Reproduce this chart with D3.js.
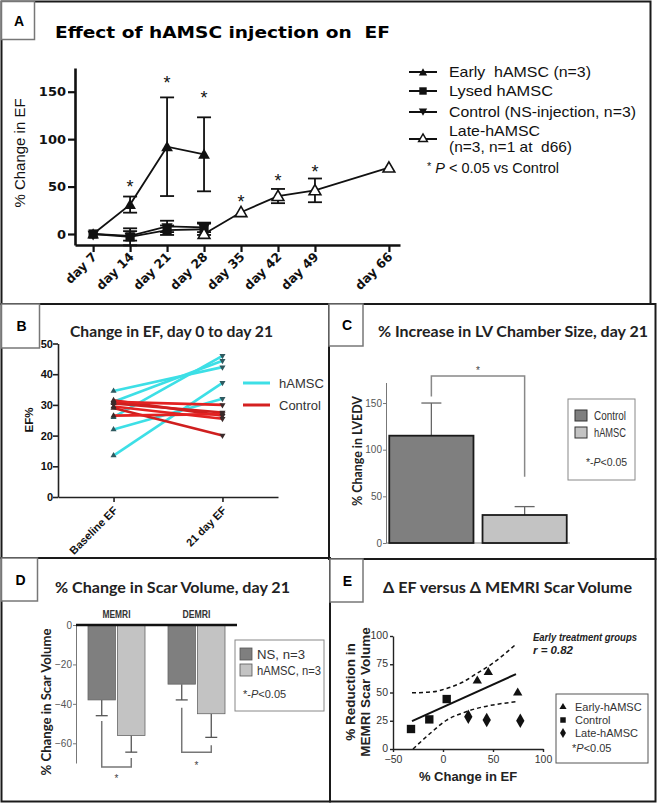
<!DOCTYPE html>
<html><head><meta charset="utf-8">
<script src="https://cdn.jsdelivr.net/npm/d3@7"></script>
<style>
body{margin:0;background:#fff}
svg{display:block}
text{font-family:"Liberation Sans",Arial,sans-serif}
.dj{font-family:"DejaVu Sans",sans-serif;font-weight:bold}
.cal{font-family:Lato,"Open Sans",sans-serif;font-weight:bold}
.nar{font-family:"Liberation Sans Narrow","Arial Narrow","Liberation Sans",sans-serif}
</style>
</head><body><svg id="c" width="659" height="803"></svg>
<script>
// ---------------- DATA ----------------
// Panel A
const dayLabels = ["day 7","day 14","day 21","day 28","day 35","day 42","day 49","day 66"];
const dayPos = [0,1,2,3,4,5,6,8];
const earlyIdx = [0,1,2,3],  earlyVal = [0,31,92,84],   earlyErr = [0,8.5,52,39];
const lysedIdx = [0,1,2,3],  lysedVal = [0,-3,4,5],     lysedErr = [0,9,5,6];
const ctrlIdx  = [0,1,2,3],  ctrlVal  = [0,-2,8,7],     ctrlErr  = [0,5,6,5];
const lateIdx  = [3,4,5,6,7], lateVal = [0,23,40,46,70], lateErr = [0,0,7.5,12.5,0];
const starIdx = [1,2,3,4,5,6], starVal = [54,163,148,38,60,70];
const yTicksA = [0,50,100,150];
const legendA = ["Early  hAMSC (n=3)","Lysed hAMSC","Control (NS-injection, n=3)","Late-hAMSC","(n=3, n=1 at  d66)"];
// Panel B
const bCats = ["Baseline EF","21 day EF"];
const hamscBase = [34.5,31,26,22,13.5], hamscEnd = [42.3,44.4,46,32,37.2];
const ctrlBase = [31.5,31,30.5,29.5,29,26.5], ctrlEnd = [26.5,30,27.5,25.5,20,27];
const yTicksB = [0,10,20,30,40,50];
// Panel C
const lvCats = ["Control","hAMSC"], lvVal = [115,30], lvErr = [35,9];
const yTicksC = [0,50,100,150];
// Panel D
const scarGroups = ["MEMRI","DEMRI"], scarSeries = ["NS, n=3","hAMSC, n=3"];
const nsScar = [-38,-30], nsScarErr = [8,8];
const hamscScar = [-56,-45], hamscScarErr = [8.5,12];
const yTicksD = [0,-20,-40,-60];
// Panel E
const eEarlyX = [34.3,45.3,74.7], eEarlyY = [60.3,67.8,49.7];
const eCtrlX = [-32,-13.7,3.7], eCtrlY = [17.7,26.2,44.2];
const eLateX = [25.3,43.7,77.3], eLateY = [28.5,25.6,25];
const fitX = [-31,73], fitY = [24.7,66.3];
const upX = [-31,-10,3.7,20,33.7,50,73], upY = [49.7,50.6,53.6,59.3,66.8,76,92.8];
const loX = [-30,-12.7,3.7,20,33.7,50,73], loY = [0,13.9,25.6,32,35.9,39,41.8];
const xTicksE = [-50,0,50,100], yTicksE = [0,25,50,75,100];

// ---------------- DRAW ----------------
const svg = d3.select("#c");
svg.append("rect").attr("width",659).attr("height",803).attr("fill","#fff");

function sym(g, type, x, y, size, rot, fill, stroke, sw){
  return g.append("path").attr("d", d3.symbol().type(type).size(size)())
    .attr("transform",`translate(${x},${y}) rotate(${rot||0})`)
    .attr("fill",fill).attr("stroke",stroke||"none").attr("stroke-width",sw||0);
}
function fit(sel, w){ return sel.attr("textLength",w).attr("lengthAdjust","spacingAndGlyphs"); }

// frames
const fr = svg.append("g").attr("fill","none").attr("stroke","#1a1a1a").attr("stroke-width",2);
fr.append("rect").attr("x",1.5).attr("y",1.5).attr("width",649).attr("height",302.5);
fr.append("rect").attr("x",1.5).attr("y",304).attr("width",327.5).attr("height",254);
fr.append("rect").attr("x",329).attr("y",304).attr("width",326.5).attr("height",255);
fr.append("rect").attr("x",1.5).attr("y",558).attr("width",328.5).attr("height",243.5);
fr.append("rect").attr("x",330).attr("y",559).attr("width",325.5).attr("height",242.5);
const labs = [{t:"A",x:1.5,y:1.5,w:33,h:38},{t:"B",x:1.5,y:304,w:38,h:44},{t:"C",x:329,y:304,w:34,h:42},{t:"D",x:1.5,y:558,w:36,h:43},{t:"E",x:330,y:559,w:33,h:43}];
labs.forEach(l=>{
  svg.append("rect").attr("x",l.x).attr("y",l.y).attr("width",l.w).attr("height",l.h)
    .attr("fill","#fff").attr("stroke","#777").attr("stroke-width",1.5);
  svg.append("text").attr("x",l.x+l.w/2+1).attr("y",l.y+l.h/2+5).attr("text-anchor","middle")
    .attr("font-size",14).attr("font-weight","bold").text(l.t);
});

// ======== PANEL A ========
{
const g = svg.append("g");
g.append("text").attr("class","dj").attr("x",55).attr("y",38).attr("font-size",15.5)
  .attr("textLength",335).attr("lengthAdjust","spacingAndGlyphs").style("white-space","pre")
  .text("Effect of hAMSC injection on  EF");
const x = d3.scaleLinear().domain([-0.49,8.3]).range([75,400]);
const y = d3.scaleLinear().domain([-11.6,175]).range([245,68]);
const xa = g.append("g").attr("transform","translate(0,245)")
  .call(d3.axisBottom(x).tickValues(dayPos).tickSize(7).tickSizeOuter(0).tickFormat((d,i)=>dayLabels[i]));
xa.selectAll("text").attr("class","dj").attr("font-weight","bold").attr("font-size",12.5).attr("text-anchor","end")
  .attr("transform","translate(-3,2) rotate(-45)").attr("dy","0.35em").attr("dx","-0.2em").attr("y",8).attr("fill","#111");
const ya = g.append("g").attr("transform","translate(75,0)")
  .call(d3.axisLeft(y).tickValues(yTicksA).tickSize(7).tickSizeOuter(0));
ya.selectAll("text").attr("class","dj").attr("font-weight","bold").attr("font-size",13).attr("x",-9).attr("fill","#111");
[xa,ya].forEach(a=>{a.select(".domain").attr("stroke","#111").attr("stroke-width",2.6);
  a.selectAll(".tick line").attr("stroke","#111").attr("stroke-width",2.2);});
g.append("text").attr("transform","translate(25,153) rotate(-90)").attr("text-anchor","middle")
  .attr("font-size",15).attr("fill","#111").text("% Change in EF");

const px = i => x(dayPos[i]);
function series(idx, val, err){
  const line = d3.line().x((d,k)=>px(idx[k])).y(d=>y(d));
  g.append("path").attr("d",line(val)).attr("fill","none").attr("stroke","#111").attr("stroke-width",1.8);
  val.forEach((v,k)=>{ if(err[k]>0){
    const cx = px(idx[k]);
    g.append("line").attr("x1",cx).attr("x2",cx).attr("y1",y(v-err[k])).attr("y2",y(v+err[k])).attr("stroke","#111").attr("stroke-width",1.8);
    [v-err[k],v+err[k]].forEach(e=>g.append("line").attr("x1",cx-7).attr("x2",cx+7).attr("y1",y(e)).attr("y2",y(e)).attr("stroke","#111").attr("stroke-width",1.8));
  }});
}
series(ctrlIdx, ctrlVal, ctrlErr);
series(lysedIdx, lysedVal, lysedErr);
series(lateIdx, lateVal, lateErr);
series(earlyIdx, earlyVal, earlyErr);
ctrlVal.forEach((v,k)=>sym(g,d3.symbolTriangle,px(ctrlIdx[k]),y(v),55,180,"#111"));
lysedVal.forEach((v,k)=>sym(g,d3.symbolSquare,px(lysedIdx[k]),y(v),85,0,"#111"));
lateVal.forEach((v,k)=>sym(g,d3.symbolTriangle,px(lateIdx[k]),y(v)+1,60,0,"#fff","#111",1.6));
earlyVal.forEach((v,k)=>sym(g,d3.symbolTriangle,px(earlyIdx[k]),y(v)+1,60,0,"#111"));
starVal.forEach((v,k)=>g.append("text").attr("x",px(starIdx[k])).attr("y",y(v)+10)
  .attr("text-anchor","middle").attr("font-size",18).attr("fill","#111").text("*"));

// legend
const lg = g.append("g");
const rowsY = [72,91,112,139];
rowsY.forEach((ry,i)=>lg.append("line").attr("x1",409).attr("x2",437).attr("y1",ry).attr("y2",ry).attr("stroke","#111").attr("stroke-width",2));
sym(lg,d3.symbolTriangle,423,73,30,0,"#111");
sym(lg,d3.symbolSquare,423,91,55,0,"#111");
sym(lg,d3.symbolTriangle,423,111,30,180,"#111");
sym(lg,d3.symbolTriangle,423,139,34,0,"#fff","#111",1.4);
[[0,77,142],[1,96,104],[2,117,187],[3,136,91],[4,152,123]].forEach(([i,ty,w])=>fit(lg.append("text").attr("x",449).attr("y",ty)
  .attr("font-size",15).attr("fill","#111").style("white-space","pre").text(legendA[i]),w));
const pt = lg.append("text").attr("x",427).attr("y",173).attr("font-size",14.5).attr("fill","#111");
pt.append("tspan").attr("font-size",11).attr("dy",-3).text("*");
pt.append("tspan").attr("dy",3).attr("font-style","italic").text(" P");
pt.append("tspan").text(" < 0.05 vs Control");
}

// ======== PANEL B ========
{
const g = svg.append("g");
g.append("text").attr("class","cal").attr("x",70).attr("y",337).attr("font-size",16)
  .attr("textLength",203).attr("lengthAdjust","spacingAndGlyphs").attr("fill","#222").text("Change in EF, day 0 to day 21");
const x = d3.scalePoint().domain(bCats).range([58,278]).padding(0.51);
const y = d3.scaleLinear().domain([0,50]).range([497,343.5]);
const xa = g.append("g").attr("transform","translate(0,497)")
  .call(d3.axisBottom(x).tickSize(5).tickSizeOuter(0));
xa.selectAll("text").attr("font-size",11).attr("font-weight","bold").attr("text-anchor","end")
  .attr("transform","rotate(-45)").attr("x",-7).attr("y",9).attr("dy","0.35em").attr("fill","#111");
const ya = g.append("g").attr("transform","translate(58,0)")
  .call(d3.axisLeft(y).tickValues(yTicksB).tickSize(5).tickSizeOuter(0));
ya.selectAll("text").attr("font-size",11).attr("font-weight","bold").attr("x",-5).attr("fill","#111");
[xa,ya].forEach(a=>{a.select(".domain").attr("stroke","#222").attr("stroke-width",1.6);
  a.selectAll(".tick line").attr("stroke","#222").attr("stroke-width",1.6);});
g.append("text").attr("transform","translate(33,420) rotate(-90)").attr("text-anchor","middle")
  .attr("font-size",11.5).attr("font-weight","bold").attr("fill","#111").text("EF%");
const x0 = x(bCats[0]), x1 = x(bCats[1]);
hamscBase.forEach((b,i)=>g.append("line").attr("x1",x0).attr("y1",y(b)).attr("x2",x1).attr("y2",y(hamscEnd[i]))
  .attr("stroke","#3ddfe6").attr("stroke-width",2.6));
ctrlBase.forEach((b,i)=>g.append("line").attr("x1",x0).attr("y1",y(b)).attr("x2",x1).attr("y2",y(ctrlEnd[i]))
  .attr("stroke",i%2?"#e32222":"#cf1f1f").attr("stroke-width",2.6));
hamscBase.forEach(b=>sym(g,d3.symbolTriangle,x0,y(b),16,0,"#2f5a60"));
ctrlBase.forEach(b=>sym(g,d3.symbolTriangle,x0,y(b),16,0,"#3a2a2a"));
hamscEnd.forEach(b=>sym(g,d3.symbolTriangle,x1,y(b),16,180,"#2f5a60"));
ctrlEnd.forEach(b=>sym(g,d3.symbolTriangle,x1,y(b),16,180,"#3a2a2a"));
// legend
g.append("line").attr("x1",243).attr("x2",270).attr("y1",383).attr("y2",383).attr("stroke","#3ddfe6").attr("stroke-width",3);
g.append("line").attr("x1",243).attr("x2",270).attr("y1",405).attr("y2",405).attr("stroke","#d42020").attr("stroke-width",3);
g.append("text").attr("x",279).attr("y",388).attr("font-size",13).attr("fill","#333").text("hAMSC");
g.append("text").attr("x",279).attr("y",410).attr("font-size",13).attr("fill","#333").text("Control");
}

// ======== PANEL C ========
{
const g = svg.append("g");
g.append("text").attr("class","cal").attr("x",378).attr("y",337).attr("font-size",16)
  .attr("textLength",270).attr("lengthAdjust","spacingAndGlyphs").attr("fill","#222").text("% Increase in LV Chamber Size, day 21");
const x = d3.scaleBand().domain(lvCats).range([386,570]).paddingInner(0.097).paddingOuter(0.035);
const y = d3.scaleLinear().domain([0,172]).range([543,382.5]);
const ya = g.append("g").attr("transform","translate(386,0)")
  .call(d3.axisLeft(y).tickValues(yTicksC).tickSize(3).tickSizeOuter(0));
ya.selectAll("text").attr("class","nar").attr("font-size",10).attr("x",-4).attr("fill","#555");
ya.select(".domain").attr("stroke","#777");
ya.selectAll(".tick line").attr("stroke","#777");
g.append("line").attr("x1",386).attr("x2",570).attr("y1",543).attr("y2",543).attr("stroke","#777");
fit(g.append("text").attr("class","cal").attr("transform","translate(362,451) rotate(-90)").attr("text-anchor","middle")
  .attr("font-size",13).attr("fill","#222").text("% Change in LVEDV"),110);
const fills = ["#7f7f7f","#c3c3c3"];
lvCats.forEach((c,i)=>{
  const cx = x(c)+x.bandwidth()/2;
  g.append("line").attr("x1",cx).attr("x2",cx).attr("y1",y(lvVal[i])).attr("y2",y(lvVal[i]+lvErr[i])).attr("stroke","#666").attr("stroke-width",1.3);
  g.append("line").attr("x1",cx-10).attr("x2",cx+10).attr("y1",y(lvVal[i]+lvErr[i])).attr("y2",y(lvVal[i]+lvErr[i])).attr("stroke","#666").attr("stroke-width",1.3);
  g.append("rect").attr("x",x(c)).attr("y",y(lvVal[i])).attr("width",x.bandwidth()).attr("height",y(0)-y(lvVal[i]))
    .attr("fill",fills[i]).attr("stroke","#1a1a1a").attr("stroke-width",1.8);
});
const cl = x(lvCats[0])+x.bandwidth()/2, cr = x(lvCats[1])+x.bandwidth()/2;
g.append("path").attr("d",`M${cl},${y(157)}V${y(179)}H${cr}V${y(71)}`).attr("fill","none").attr("stroke","#888").attr("stroke-width",1.5);
g.append("text").attr("x",(cl+cr)/2).attr("y",y(179)-2).attr("text-anchor","middle").attr("font-size",10).attr("fill","#444").text("*");
// legend
g.append("rect").attr("x",568).attr("y",399).attr("width",67).attr("height",81).attr("fill","#fff").attr("stroke","#888");
lvCats.forEach((c,i)=>{
  g.append("rect").attr("x",575).attr("y",410+i*17).attr("width",12).attr("height",11).attr("fill",fills[i]).attr("stroke","#333");
  fit(g.append("text").attr("class","nar").attr("x",594).attr("y",420+i*17).attr("font-size",12).attr("fill","#333").text(c),32);
});
const t = g.append("text").attr("class","nar").attr("x",586).attr("y",466).attr("font-size",10.5).attr("fill","#333");
t.append("tspan").text("*-"); t.append("tspan").attr("font-style","italic").text("P"); t.append("tspan").text("<0.05");
}

// ======== PANEL D ========
{
const g = svg.append("g");
g.append("text").attr("class","cal").attr("x",55).attr("y",593).attr("font-size",16)
  .attr("textLength",235).attr("lengthAdjust","spacingAndGlyphs").attr("fill","#222").text("% Change in Scar Volume, day 21");
const x0 = d3.scaleBand().domain(scarGroups).range([76,237]).paddingInner(0.2875).paddingOuter(0.15);
const x1 = d3.scaleBand().domain(scarSeries).range([0,x0.bandwidth()]).paddingInner(0.07);
const y = d3.scaleLinear().domain([-70,0]).range([763,625]);
const ya = g.append("g").attr("transform","translate(76,0)")
  .call(d3.axisLeft(y).tickValues(yTicksD).tickSize(3).tickSizeOuter(0));
ya.selectAll("text").attr("class","nar").attr("font-size",10).attr("x",-4).attr("fill","#555");
ya.select(".domain").attr("stroke","#777");
ya.selectAll(".tick line").attr("stroke","#777");
fit(g.append("text").attr("class","cal").attr("transform","translate(51,702) rotate(-90)").attr("text-anchor","middle")
  .attr("font-size",13).attr("fill","#222").text("% Change in Scar Volume"),147);
const fills = ["#7f7f7f","#c3c3c3"];
const vals = [nsScar, hamscScar], errs = [nsScarErr, hamscScarErr];
scarGroups.forEach((gr,gi)=>{
  scarSeries.forEach((s,si)=>{
    const bx = x0(gr)+x1(s), v = vals[si][gi], e = errs[si][gi], cx = bx + x1.bandwidth()/2;
    g.append("line").attr("x1",cx).attr("x2",cx).attr("y1",y(v)).attr("y2",y(v-e)).attr("stroke","#555").attr("stroke-width",1.3);
    g.append("line").attr("x1",cx-6).attr("x2",cx+6).attr("y1",y(v-e)).attr("y2",y(v-e)).attr("stroke","#555").attr("stroke-width",1.3);
    g.append("rect").attr("x",bx).attr("y",y(0)).attr("width",x1.bandwidth()).attr("height",y(v)-y(0))
      .attr("fill",fills[si]).attr("stroke","#666").attr("stroke-width",0.8);
  });
  fit(g.append("text").attr("class","nar").attr("x",x0(gr)+x0.bandwidth()/2).attr("y",618).attr("text-anchor","middle")
    .attr("font-size",10).attr("font-weight","bold").attr("fill","#333").text(gr),28);
});
g.append("line").attr("x1",76).attr("x2",237).attr("y1",y(0)).attr("y2",y(0)).attr("stroke","#111").attr("stroke-width",2.4);
// brackets
const brk = [[-48.7,-72,-67.5,-76.5],[-42,-64.5,-61,-70]];
scarGroups.forEach((gr,gi)=>{
  const l = x0(gr)+x1(scarSeries[0])+x1.bandwidth()/2, r = x0(gr)+x1(scarSeries[1])+x1.bandwidth()/2;
  const b = brk[gi];
  g.append("path").attr("d",`M${l},${y(b[0])}V${y(b[1])}H${r}V${y(b[2])}`).attr("fill","none").attr("stroke","#777").attr("stroke-width",1.5);
  g.append("text").attr("x",(l+r)/2).attr("y",y(b[3])+6).attr("text-anchor","middle").attr("font-size",10).attr("fill","#444").text("*");
});
// legend
g.append("rect").attr("x",235).attr("y",640).attr("width",89).attr("height",71).attr("fill","#fff").attr("stroke","#888");
[48,64].forEach((w,i)=>{
  g.append("rect").attr("x",240).attr("y",648+i*16).attr("width",12).attr("height",12).attr("fill",fills[i]).attr("stroke","#555").attr("stroke-width",0.8);
  fit(g.append("text").attr("class","nar").attr("x",257).attr("y",659+i*16).attr("font-size",13).attr("fill","#333").text(scarSeries[i]),w);
});
const t = g.append("text").attr("class","nar").attr("x",243).attr("y",698).attr("font-size",11).attr("fill","#333");
t.append("tspan").text("*-"); t.append("tspan").attr("font-style","italic").text("P"); t.append("tspan").text("<0.05");
}

// ======== PANEL E ========
{
const g = svg.append("g");
g.append("text").attr("class","cal").attr("x",383).attr("y",593).attr("font-size",16)
  .attr("textLength",249).attr("lengthAdjust","spacingAndGlyphs").attr("fill","#222").text("Δ EF versus Δ MEMRI Scar Volume");
const x = d3.scaleLinear().domain([-50,100]).range([393,543]);
const y = d3.scaleLinear().domain([0,100]).range([749,636]);
const xa = g.append("g").attr("transform","translate(0,749)").call(d3.axisBottom(x).tickValues(xTicksE).tickSize(3).tickSizeOuter(0));
const ya = g.append("g").attr("transform","translate(393,0)").call(d3.axisLeft(y).tickValues(yTicksE).tickSize(3).tickSizeOuter(0));
[xa,ya].forEach(a=>{a.select(".domain").attr("stroke","#222").attr("stroke-width",1.4);
  a.selectAll(".tick line").attr("stroke","#222").attr("stroke-width",1.4);
  a.selectAll("text").attr("font-size",10.5).attr("fill","#333");});
xa.selectAll("text").attr("y",7);
ya.selectAll("text").attr("x",-5).attr("dy","0.25em");
g.append("text").attr("x",468).attr("y",781).attr("text-anchor","middle").attr("font-size",13).attr("font-weight","bold").attr("fill","#222").text("% Change in EF");
const yl = g.append("text").attr("transform","translate(355,692) rotate(-90)").attr("text-anchor","middle")
  .attr("font-size",13.5).attr("font-weight","bold").attr("fill","#222");
yl.append("tspan").attr("x",0).attr("dy",0).text("% Reduction in");
yl.append("tspan").attr("x",0).attr("dy",15).text("MEMRI Scar Volume");
const ln = d3.line().x(d=>x(d[0])).y(d=>y(d[1]));
g.append("path").attr("d",ln(fitX.map((v,i)=>[v,fitY[i]]))).attr("stroke","#111").attr("stroke-width",2).attr("fill","none");
const cl = d3.line().x(d=>x(d[0])).y(d=>y(d[1])).curve(d3.curveMonotoneX);
g.append("path").attr("d",cl(upX.map((v,i)=>[v,upY[i]]))).attr("stroke","#111").attr("stroke-width",1.5).attr("stroke-dasharray","4,3").attr("fill","none");
g.append("path").attr("d",cl(loX.map((v,i)=>[v,loY[i]]))).attr("stroke","#111").attr("stroke-width",1.5).attr("stroke-dasharray","4,3").attr("fill","none");
eEarlyX.forEach((v,i)=>sym(g,d3.symbolTriangle,x(v),y(eEarlyY[i]),38,0,"#111"));
eCtrlX.forEach((v,i)=>sym(g,d3.symbolSquare,x(v),y(eCtrlY[i]),70,0,"#111"));
eLateX.forEach((v,i)=>sym(g,d3.symbolDiamond,x(v),y(eLateY[i]),60,0,"#111"));
const an = g.append("g").attr("fill","#222");
fit(an.append("text").attr("x",533).attr("y",641).attr("font-size",11.5).attr("font-weight","bold").attr("font-style","italic").text("Early treatment groups"),104);
an.append("text").attr("x",533).attr("y",654).attr("font-size",11.5).attr("font-weight","bold").attr("font-style","italic").text("r = 0.82");
// legend
g.append("rect").attr("x",556).attr("y",694).attr("width",92).attr("height",69).attr("fill","#fff").attr("stroke","#555");
sym(g,d3.symbolTriangle,563,707,22,0,"#111");
sym(g,d3.symbolSquare,563,720,30,0,"#111");
sym(g,d3.symbolDiamond,563,733,30,0,"#111");
["Early-hAMSC","Control","Late-hAMSC"].forEach((s,i)=>g.append("text").attr("x",575).attr("y",711+i*13)
  .attr("font-size",11).attr("fill","#333").text(s));
const t = g.append("text").attr("x",572).attr("y",752).attr("font-size",11).attr("fill","#333");
t.append("tspan").text("*"); t.append("tspan").attr("font-style","italic").text("P"); t.append("tspan").text("<0.05");
}
</script></body></html>
